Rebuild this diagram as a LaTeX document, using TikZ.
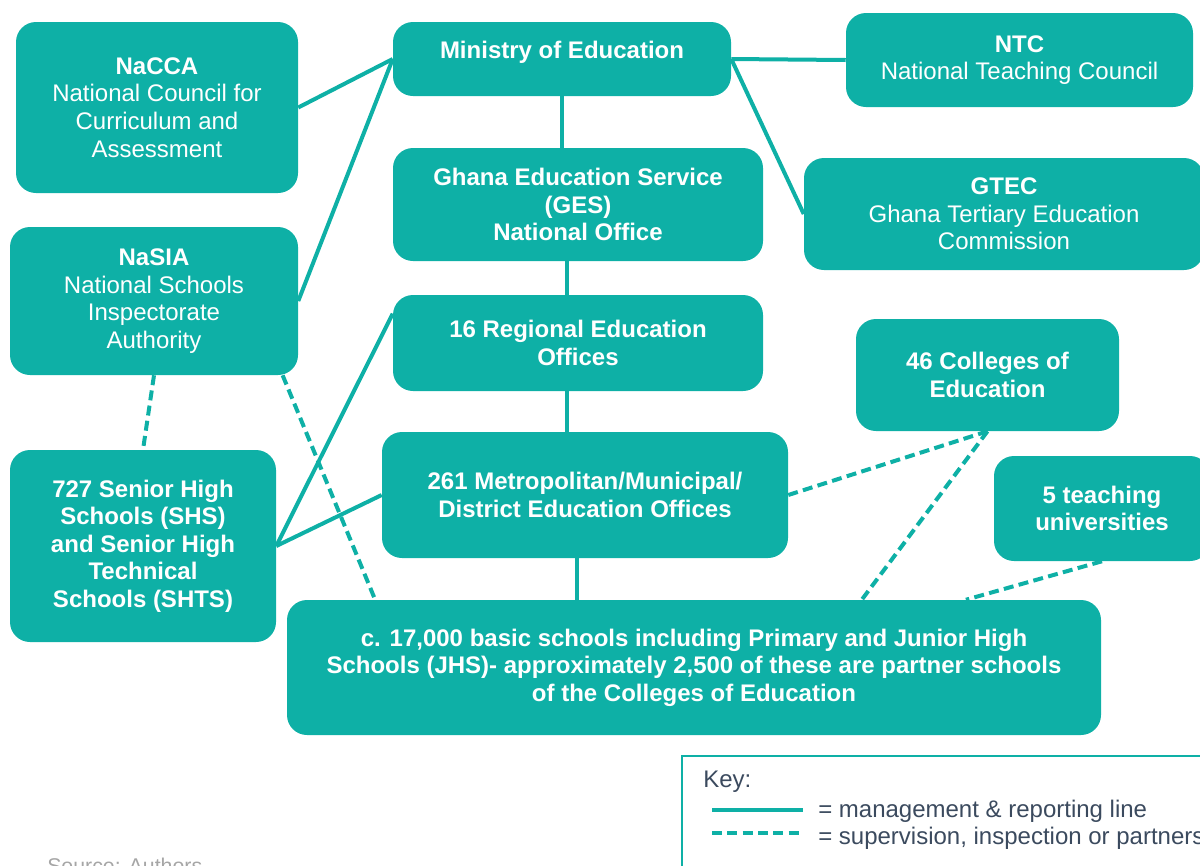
\documentclass[tikz,border=0pt]{standalone}
\usepackage{fontspec}
\setmainfont{Liberation Sans}
\usepackage{tikz}
\usepackage{xcolor}
\definecolor{gteal}{HTML}{0EB0A6}
\definecolor{keytext}{HTML}{3B4A5E}
\definecolor{srcgrey}{HTML}{A6A6A6}
\tikzstyle{box} = [rectangle, rounded corners=15pt, fill=gteal, text=white, align=center, inner sep=0pt, font=\fontsize{18}{20.7}\selectfont]
\tikzstyle{report} = [draw=gteal, line width=3pt]
\tikzstyle{partner} = [draw=gteal, line width=3pt, dash pattern=on 7.5pt off 4pt]
\tikzstyle{keylabel} = [anchor=west, inner sep=0pt, text=keytext, font=\fontsize{18}{20.7}\selectfont]

\begin{document}
\begin{tikzpicture}[x=0.75pt, y=-0.75pt]
\useasboundingbox (0,0) rectangle (1200,865);

\node[box, minimum width=253.5pt, minimum height=55.5pt, text height=13pt, text depth=14pt] (ministry) at (562,59) {\textbf{Ministry of Education}};
\node[box, minimum width=211.5pt, minimum height=128.25pt] (nacca) at (157,107.5) {\textbf{NaCCA}\\National Council for\\Curriculum and\\Assessment};
\node[box, minimum width=260.25pt, minimum height=70.5pt] (ntc) at (1019.5,60) {\textbf{NTC}\\National Teaching Council};
\node[box, minimum width=277.5pt, minimum height=84.75pt] (ges) at (578,204.5) {\textbf{Ghana Education Service}\\\textbf{(GES)}\\\textbf{National Office}};
\node[box, minimum width=300pt, minimum height=84pt] (gtec) at (1004,214) {\textbf{GTEC}\\Ghana Tertiary Education\\Commission};
\node[box, minimum width=216pt, minimum height=111pt] (nasia) at (154,301) {\textbf{NaSIA}\\National Schools\\Inspectorate\\Authority};
\node[box, minimum width=277.5pt, minimum height=72pt] (reg) at (578,343) {\textbf{16 Regional Education}\\\textbf{Offices}};
\node[box, minimum width=197.25pt, minimum height=84pt] (coe) at (987.5,375) {\textbf{46 Colleges of}\\\textbf{Education}};
\node[box, minimum width=304.5pt, minimum height=94.5pt] (metro) at (585,495) {\textbf{261 Metropolitan/Municipal/}\\\textbf{District Education Offices}};
\node[box, minimum width=162pt, minimum height=78.75pt] (univ) at (1102,508.5) {\textbf{5 teaching}\\\textbf{universities}};
\node[box, minimum width=199.5pt, minimum height=144pt] (shs) at (143,546) {\textbf{727 Senior High}\\\textbf{Schools (SHS)}\\\textbf{and Senior High}\\\textbf{Technical}\\\textbf{Schools (SHTS)}};
\node[box, minimum width=610.5pt, minimum height=101.25pt] (basic) at (694,667.5) {\textbf{c. 17,000 basic schools including Primary and Junior High}\\\textbf{Schools (JHS)- approximately 2,500 of these are partner schools}\\\textbf{of the Colleges of Education}};

% management & reporting lines
\foreach \from/\to in {nacca.east/ministry.west,nasia.east/ministry.west,ministry.east/ntc.west,ministry.east/gtec.west,shs.east/reg.171,shs.east/metro.west}
{
	\draw[report] (\from) -- (\to);
}
\draw[report] (ministry.south) -- (ministry.south |- ges.north);
\draw[report] ([xshift=-8.25pt]ges.south) -- ([xshift=-8.25pt]ges.south |- reg.north);
\draw[report] ([xshift=-8.25pt]reg.south) -- ([xshift=-8.25pt]reg.south |- metro.north);
\draw[report] ([xshift=-6pt]metro.south) -- ([xshift=-6pt]metro.south |- basic.north);

% supervision, inspection or partnership
\foreach \from/\to in {nasia.south/shs.north,nasia.-30/basic.168,metro.east/coe.south,coe.south/basic.22,univ.south/basic.14}
{
	\draw[partner] (\from) -- (\to);
}

% key
\draw[gteal, line width=1.5pt] (682,756) rectangle (1230,900);
\node[keylabel] (keyhead) at (703,782) {Key:};
\coordinate (k1a) at (712,810);
\coordinate (k1b) at (803,810);
\coordinate (k2a) at (712,833);
\coordinate (k2b) at (803,833);
\draw[report] (k1a) -- (k1b);
\draw[partner] (k2a) -- (k2b);
\node[keylabel] (keyreport) at (818,811) {= management \& reporting line};
\node[keylabel] (keypartner) at (818,838) {= supervision, inspection or partnerships};

\node[anchor=base west, inner sep=0pt, text=srcgrey, font=\fontsize{16}{19}\selectfont] (source) at (47,873) {Source: Authors};
\end{tikzpicture}
\end{document}
